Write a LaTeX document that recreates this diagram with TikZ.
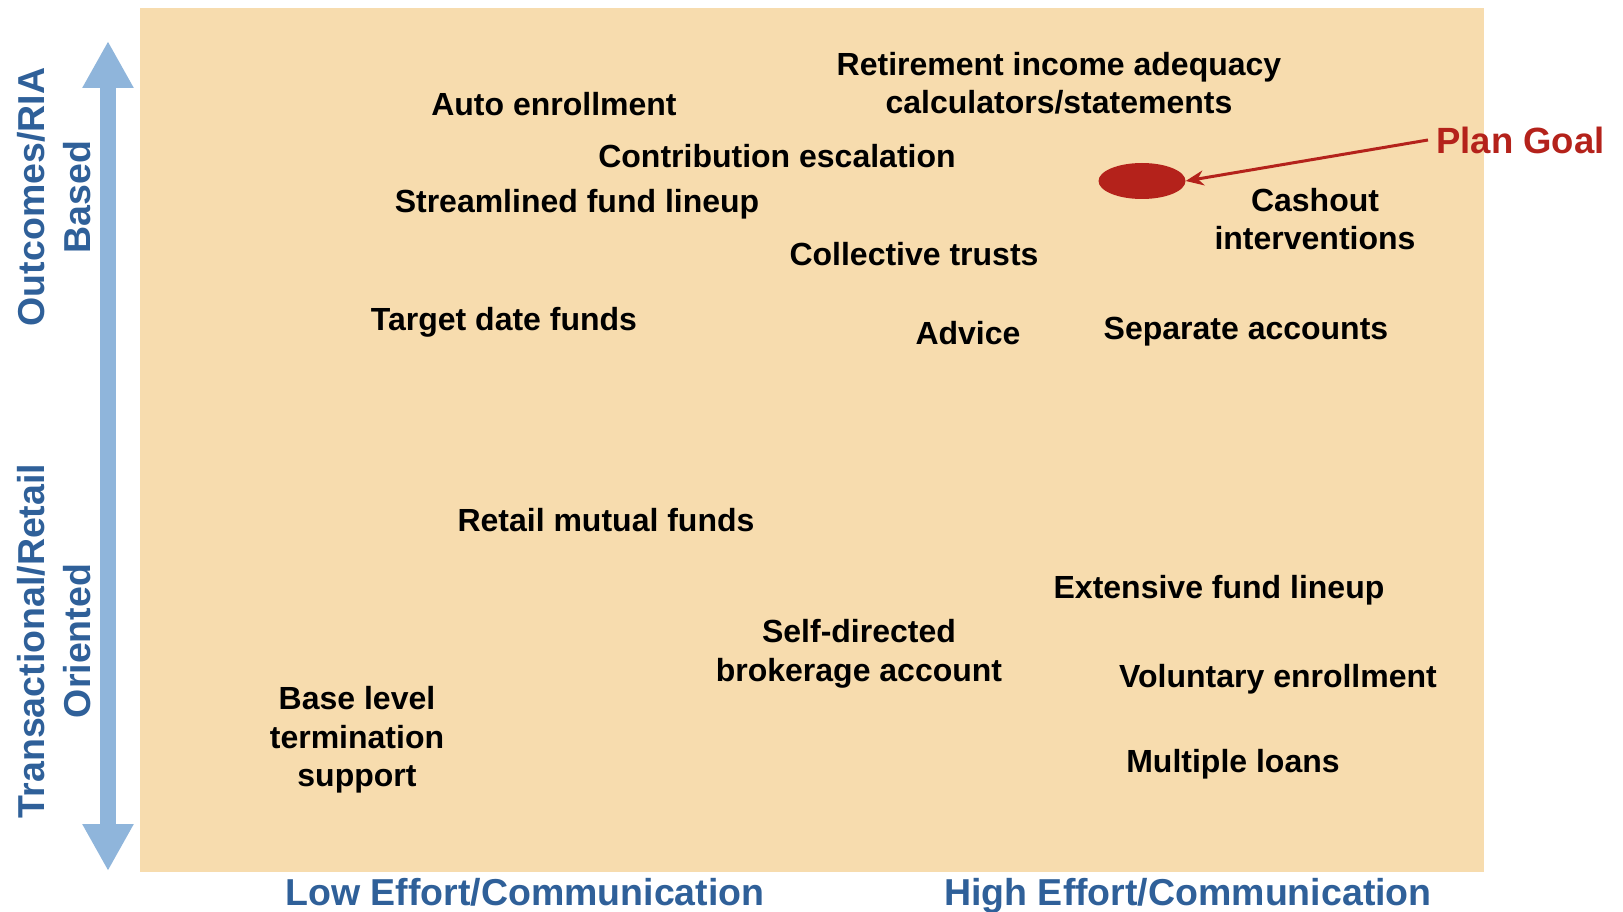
\documentclass[tikz,border=0pt]{standalone}
\usepackage{fontspec}
\setmainfont{Liberation Sans}
\usetikzlibrary{arrows.meta,shapes.geometric}
\definecolor{peach}{RGB}{247,220,174}
\definecolor{axisblue}{RGB}{47,96,153}
\definecolor{shaftblue}{RGB}{143,181,219}
\definecolor{goalred}{RGB}{180,34,27}

\begin{document}
\begin{tikzpicture}[x=1pt,y=-1pt]
\tikzstyle{every node}+=[inner sep=0pt]
\tikzstyle{item}=[font=\fontsize{32}{38.5}\selectfont\bfseries, align=center]
\tikzstyle{axislabel}=[font=\fontsize{37.5}{46}\selectfont\bfseries, text=axisblue, align=center]
\useasboundingbox (0,0) rectangle (1623,912);
\fill [peach] (140,8) rectangle (1484,872);
\coordinate (top) at (108,41);
\coordinate (bottom) at (108,871);
\draw [shaftblue, line width=16pt, {Triangle[length=47pt,width=48pt]}-{Triangle[length=47pt,width=48pt]}] (top) -- (bottom);
\node [axislabel, rotate=90] (outcomes) at (54,197) {Outcomes/RIA\\Based};
\node [axislabel, rotate=90] (transact) at (54,641) {Transactional/Retail\\Oriented};
\node [axislabel] (loweffort) at (525,892) {Low Effort/Communication};
\node [axislabel] (higheffort) at (1188,896) {High Effort/Communication};
\node [item] (retire) at (1059,83) {Retirement income adequacy\\calculators/statements};
\node [item] (autoenr) at (554,104) {Auto enrollment};
\node [item] (contrib) at (777,156) {Contribution escalation};
\node [item] (stream) at (577,204) {Streamlined fund lineup};
\node [item] (trusts) at (914,254) {Collective trusts};
\node [item] (cashout) at (1315,219) {Cashout\\interventions};
\node [item] (target) at (504,322) {Target date funds};
\node [item] (advice) at (968,333) {Advice};
\node [item] (separate) at (1246,332) {Separate accounts};
\node [item] (retail) at (606,520) {Retail mutual funds};
\node [item] (extensive) at (1219,590) {Extensive fund lineup};
\node [item] (selfdir) at (859,654) {Self-directed\\brokerage account};
\node [item] (voluntary) at (1278,679) {Voluntary enrollment};
\node [item] (baselevel) at (357,740) {Base level\\termination\\support};
\node [item] (loans) at (1233,764) {Multiple loans};
\node [fill=goalred, ellipse, minimum width=87pt, minimum height=36pt] (goal) at (1142,181) {};
\node [font=\fontsize{36.5}{44}\selectfont\bfseries, text=goalred, anchor=west] (plangoal) at (1436,140) {Plan Goal};
\draw [goalred, line width=3pt, -{Stealth[length=18pt,width=15pt]}] (plangoal.west) ++(-8,0) -- (goal.east);
\end{tikzpicture}
\end{document}
